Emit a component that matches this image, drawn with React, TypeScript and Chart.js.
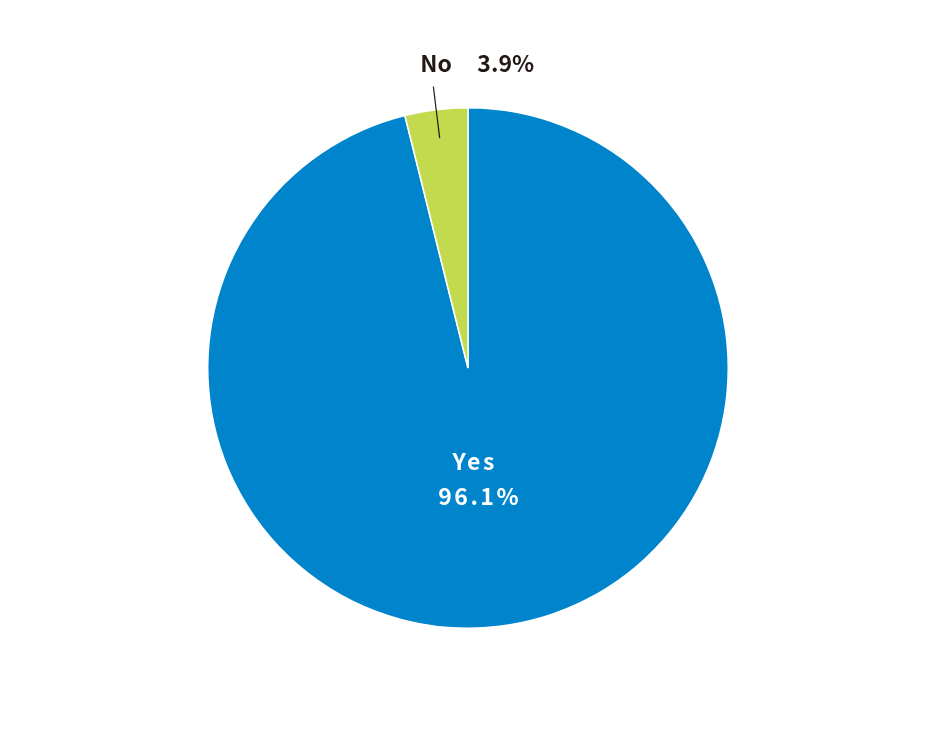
import React, { useEffect, useRef } from "react";
import { Chart, registerables } from "chart.js";

Chart.register(...registerables);

const categories = ["Yes", "No"];
const values = [96.1, 3.9];
const colors = ["#0085CC", "#C3DA4F"];

const labelPlugin = {
  id: "sliceLabels",
  afterDatasetsDraw(chart: any) {
    const ctx = chart.ctx;
    const meta = chart.getDatasetMeta(0);
    const data = chart.data.datasets[0].data as number[];
    const labels = chart.data.labels as string[];
    meta.data.forEach((arc: any, i: number) => {
      const { x, y, startAngle, endAngle, outerRadius } = arc.getProps(
        ["x", "y", "startAngle", "endAngle", "outerRadius"],
        true
      );
      const mid = (startAngle + endAngle) / 2;
      const pct = data[i].toFixed(1) + "%";
      ctx.save();
      if (i === 0) {
        const r = outerRadius * 0.43;
        const cx = x + Math.cos(mid) * r - 8;
        const cy = y + Math.sin(mid) * r;
        ctx.fillStyle = "#ffffff";
        ctx.font = "700 23px 'Noto Sans CJK JP', 'Noto Sans', sans-serif";
        (ctx as any).letterSpacing = "2.5px";
        ctx.textAlign = "center";
        ctx.textBaseline = "middle";
        ctx.fillText(labels[i], cx + 1, cy - 18);
        ctx.fillText(pct, cx + 6, cy + 17);
      } else {
        const r1 = outerRadius * 0.89;
        const r2 = outerRadius * 1.09;
        const x1 = x + Math.cos(mid) * r1;
        const y1 = y + Math.sin(mid) * r1;
        const x2 = x + Math.cos(mid) * r2;
        const y2 = y + Math.sin(mid) * r2;
        ctx.strokeStyle = "#231815";
        ctx.lineWidth = 1.2;
        ctx.beginPath();
        ctx.moveTo(x1, y1);
        ctx.lineTo(x2, y2);
        ctx.stroke();
        ctx.fillStyle = "#231815";
        ctx.font = "700 23px 'Noto Sans CJK JP', 'Noto Sans', sans-serif";
        ctx.textAlign = "left";
        ctx.textBaseline = "alphabetic";
        ctx.fillText(labels[i], x2 - 13, y2 - 14);
        ctx.fillText(pct, x2 + 44, y2 - 14);
      }
      ctx.restore();
    });
  },
};

export default function App() {
  const ref = useRef<HTMLCanvasElement | null>(null);
  useEffect(() => {
    document.body.style.margin = "0";
    if (!ref.current) return;
    const chart = new Chart(ref.current, {
      type: "pie",
      data: {
        labels: categories,
        datasets: [
          {
            data: values,
            backgroundColor: colors,
            borderColor: "#ffffff",
            borderWidth: 1.5,
          },
        ],
      },
      options: {
        animation: false,
        responsive: false,
        devicePixelRatio: 1,
        layout: { padding: { top: 107, bottom: 107, left: 0, right: 0 } },
        plugins: {
          legend: { display: false },
          tooltip: { enabled: false },
        },
      },
      plugins: [labelPlugin],
    });
    return () => chart.destroy();
  }, []);
  return (
    <div style={{ position: "absolute", left: 0, top: 0, width: 936, height: 736, background: "#fff" }}>
      <canvas ref={ref} width={936} height={736} style={{ width: 936, height: 736, display: "block" }} />
    </div>
  );
}
